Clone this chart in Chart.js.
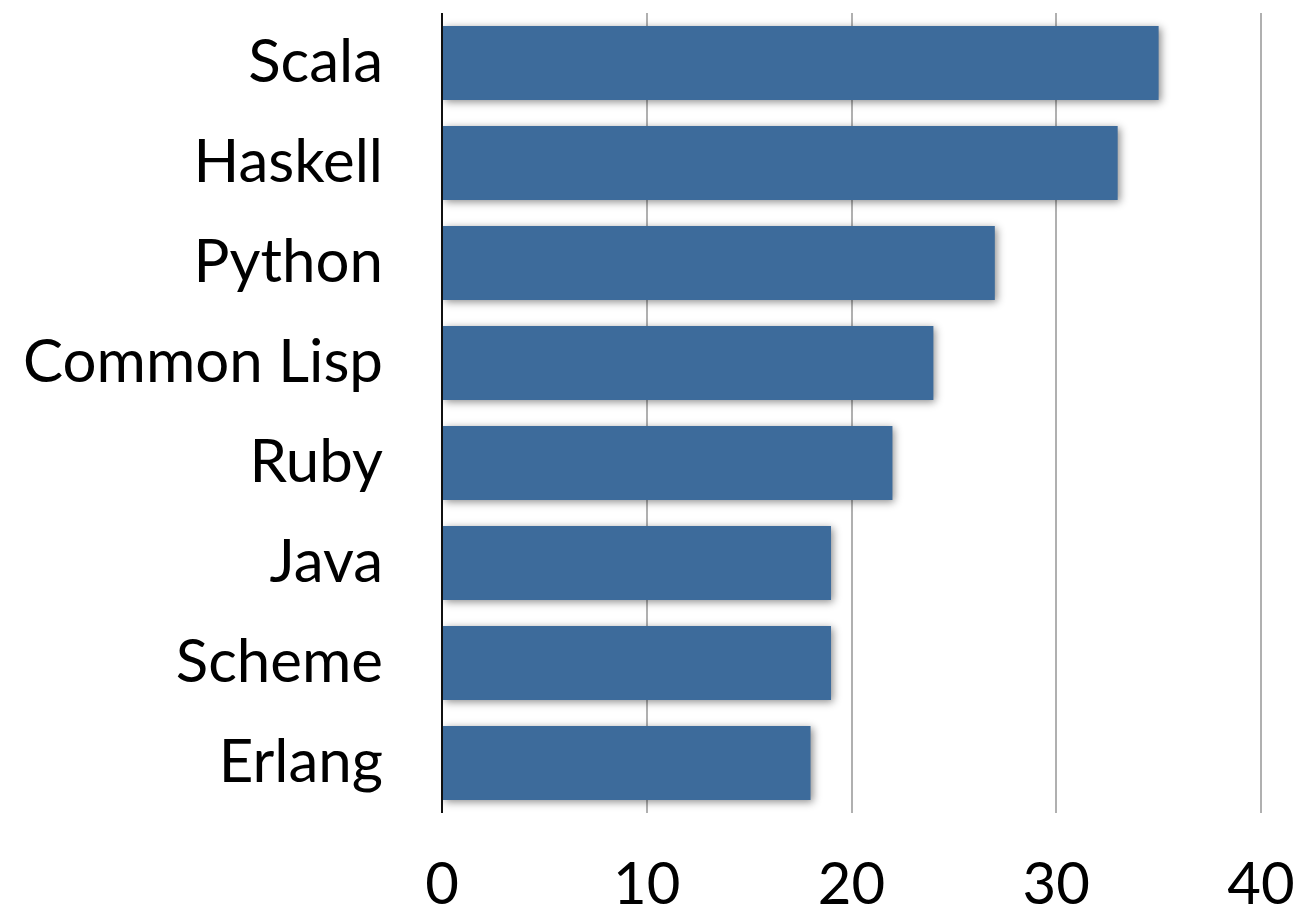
<!DOCTYPE html>
<html>
<head>
<meta charset="utf-8">
<script src="https://cdn.jsdelivr.net/npm/chart.js@4"></script>
<style>
  html, body { margin: 0; padding: 0; background: #fff; }
  #wrap { width: 1295px; height: 907px; }
</style>
</head>
<body>
<div id="wrap"><canvas id="langChart" width="1295" height="907"></canvas></div>
<script>
// Data
const languages = ['Scala', 'Haskell', 'Python', 'Common Lisp', 'Ruby', 'Java', 'Scheme', 'Erlang'];
const counts = [35, 33, 27, 24, 22, 19, 19, 18];
const xTicks = [0, 10, 20, 30, 40];

// soft drop shadow under the bars
const barShadow = {
    id: 'barShadow',
    beforeDatasetsDraw(chart) {
        const ctx = chart.ctx;
        ctx.save();
        ctx.shadowColor = 'rgba(0,0,0,0.45)';
        ctx.shadowBlur = 8;
        ctx.shadowOffsetX = 2;
        ctx.shadowOffsetY = 2;
    },
    afterDatasetsDraw(chart) {
        chart.ctx.restore();
    }
};

function noPad(axis) {
    axis.paddingTop = 0;
    axis.paddingBottom = 0;
    axis.paddingLeft = 0;
    axis.paddingRight = 0;
}

const ctx = document.getElementById('langChart').getContext('2d');
const chart = new Chart(ctx, {
    type: 'bar',
    data: {
        labels: languages,
        datasets: [{
            data: counts,
            backgroundColor: '#3d6b9b',
            borderWidth: 0,
            barPercentage: 0.74,
            categoryPercentage: 1.0,
        }],
    },
    options: {
        indexAxis: 'y',
        responsive: false,
        animation: false,
        layout: { padding: { top: 13, right: 34, left: 0, bottom: 0 } },
        plugins: { legend: { display: false }, tooltip: { enabled: false } },
        scales: {
            x: {
                min: 0,
                max: 40,
                afterBuildTicks: (axis) => { axis.ticks = xTicks.map(v => ({ value: v })); },
                afterFit: (axis) => { axis.height = 94; noPad(axis); },
                border: { display: false },
                grid: {
                    drawTicks: false,
                    lineWidth: 2,
                    color: (c) => c.tick && c.tick.value === 0 ? '#111' : '#b0b0b0',
                },
                ticks: {
                    padding: 37,
                    color: '#000',
                    font: { family: 'Lato', size: 58 },
                },
            },
            y: {
                afterFit: (axis) => { axis.width = 442; noPad(axis); },
                border: { display: false },
                grid: { display: false, drawTicks: false },
                ticks: {
                    padding: 59,
                    color: '#000',
                    font: { family: 'Lato', size: 60 },
                },
            },
        },
    },
    plugins: [barShadow],
});
</script>
</body>
</html>
